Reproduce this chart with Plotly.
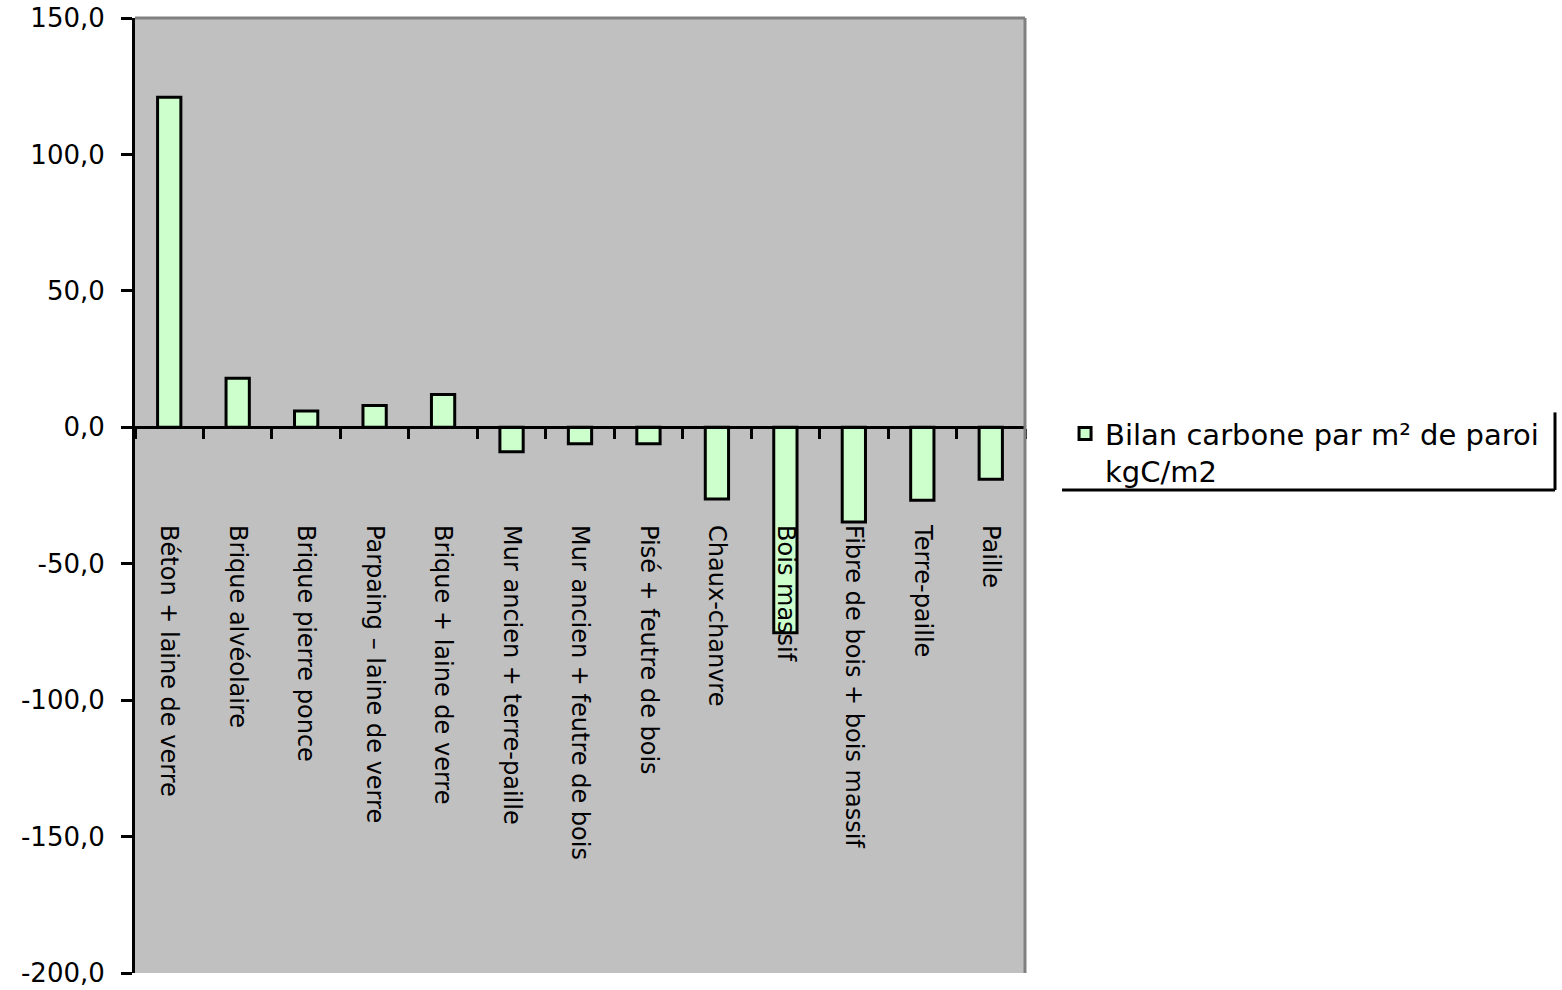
import plotly.graph_objects as go

categories = [
    "Béton + laine de verre", "Brique alvéolaire", "Brique pierre ponce",
    "Parpaing – laine de verre", "Brique + laine de verre",
    "Mur ancien + terre-paille", "Mur ancien + feutre de bois",
    "Pisé + feutre de bois", "Chaux-chanvre", "Bois massif",
    "Fibre de bois + bois massif", "Terre-paille", "Paille",
]
values = [121, 18, 6, 8, 12, -9, -6, -6, -26.3, -75.3, -34.7, -26.7, -19]
series_name = "Bilan carbone par m² de paroi<br>kgC/m2"
y_ticks = [150, 100, 50, 0, -50, -100, -150, -200]
y_ticktext = [f"{v:.1f}".replace(".", ",") for v in y_ticks]

FONT = "DejaVu Sans"
y_min, y_max = -200, 150
zero_pos = (0 - y_min) / (y_max - y_min)

fig = go.Figure()
fig.add_trace(go.Bar(
    x=categories, y=values, name=series_name,
    marker=dict(color="#CCFFCC", line=dict(color="black", width=3)),
    width=0.34, showlegend=True,
))

fig.update_layout(
    width=1562, height=990,
    margin=dict(l=135, r=537, t=18, b=17, autoexpand=False),
    paper_bgcolor="white", plot_bgcolor="#C0C0C0",
    font=dict(family=FONT, color="black"),
    showlegend=True,
    legend=dict(
        x=1.045, y=0.545, xanchor="left", yanchor="middle",
        font=dict(family=FONT, size=29, color="black"),
        bgcolor="rgba(0,0,0,0)", borderwidth=0, valign="top",
        tracegroupgap=0,
    ),
    xaxis=dict(
        anchor="free", position=zero_pos,
        showline=True, linecolor="black", linewidth=3,
        ticks="outside", ticklen=10, tickwidth=3, tickcolor="black",
        tickson="boundaries", tickangle=90, ticklabelstandoff=91,
        tickfont=dict(family=FONT, size=24, color="black"),
        showgrid=False, zeroline=False, fixedrange=True, automargin=False,
    ),
    yaxis=dict(
        range=[y_min, y_max], tickvals=y_ticks, ticktext=y_ticktext,
        showline=True, linecolor="black", linewidth=3,
        ticks="outside", ticklen=11, tickwidth=3, tickcolor="black",
        tickfont=dict(family=FONT, size=26, color="black"),
        ticklabelstandoff=11, ticklabeloverflow="allow",
        showgrid=False, zeroline=False, automargin=False,
    ),
    shapes=[
        dict(type="line", xref="paper", yref="paper", x0=0, x1=1, y0=1, y1=1,
             line=dict(color="#808080", width=3)),
        dict(type="line", xref="paper", yref="paper", x0=1, x1=1, y0=0, y1=1,
             line=dict(color="#808080", width=3)),
        dict(type="line", xref="paper", yref="paper", x0=1.0416, x1=1.5955,
             y0=0.5057, y1=0.5057, line=dict(color="black", width=3)),
        dict(type="line", xref="paper", yref="paper", x0=1.5955, x1=1.5955,
             y0=0.5057, y1=0.587, line=dict(color="black", width=3)),
    ],
)

fig.write_html("out.html")
